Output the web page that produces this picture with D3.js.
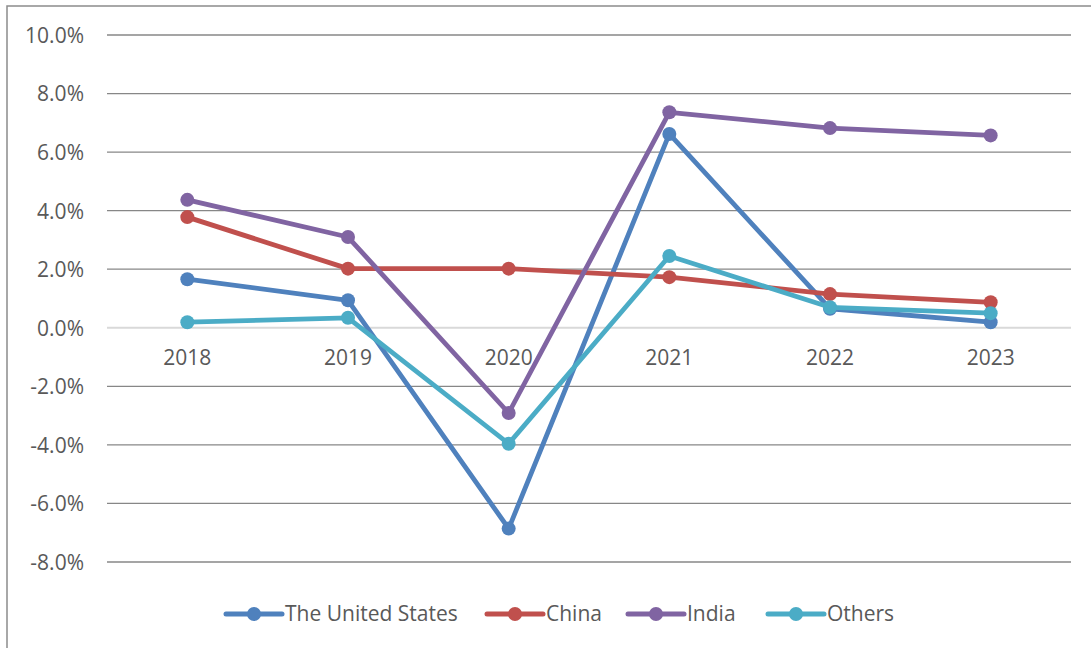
<!DOCTYPE html>
<html>
<head>
<meta charset="utf-8">
<script src="https://cdn.jsdelivr.net/npm/d3@7"></script>
<style>
  body { margin: 0; background: #fff; }
  text { font-family: "Open Sans", "Noto Sans", sans-serif; fill: #595959; }
</style>
</head>
<body>
<div id="chart"></div>
<script>
const years = ['2018', '2019', '2020', '2021', '2022', '2023']
const yTicks = [-8, -6, -4, -2, 0, 2, 4, 6, 8, 10]
const seriesNames = ['The United States', 'China', 'India', 'Others']
const colors = ['#4f81bd', '#c0504d', '#8064a2', '#4bacc6']
const usValues = [1.66, 0.94, -6.86, 6.62, 0.65, 0.19]
const chinaValues = [3.78, 2.02, 2.02, 1.73, 1.15, 0.87]
const indiaValues = [4.37, 3.10, -2.91, 7.36, 6.82, 6.57]
const othersValues = [0.19, 0.34, -3.96, 2.45, 0.70, 0.50]
const allValues = [usValues, chinaValues, indiaValues, othersValues]

const width = 1091
const height = 648
const fontSize = 21

const svg = d3.select('#chart')
  .append('svg')
  .attr('width', width)
  .attr('height', height)

// outer chart border
svg.append('rect')
  .attr('x', 7).attr('y', 6)
  .attr('width', 1100).attr('height', 700)
  .attr('fill', 'none')
  .attr('stroke', '#8c8c8c')
  .attr('stroke-width', 1.5)

const x = d3.scaleBand().domain(years).range([107, 1071]).padding(0)
const y = d3.scaleLinear().domain([-8, 10]).range([562, 35])

// gridlines
svg.append('g').selectAll('line').data(yTicks).enter().append('line')
  .attr('x1', 107).attr('x2', 1071)
  .attr('y1', d => y(d)).attr('y2', d => y(d))
  .attr('stroke', d => d === 0 ? '#d9d9d9' : '#878787')
  .attr('stroke-width', d => d === 0 ? 2 : 1.3)

// y axis labels (plain hyphen for negatives, like the original)
const yAxis = d3.axisLeft(y).tickValues(yTicks).tickSize(0).tickPadding(0)
  .tickFormat(d => d.toFixed(1) + '%')
svg.append('g').attr('transform', 'translate(84,0)').call(yAxis)
  .call(g => g.select('.domain').remove())
  .selectAll('text')
  .attr('font-size', fontSize)
  .attr('dy', '0.35em')
  .style('fill', '#595959')

// x axis labels, sitting under the 0% line
const xAxis = d3.axisBottom(x).tickSize(0).tickPadding(0)
svg.append('g').attr('transform', `translate(0,${y(0) + 30})`).call(xAxis)
  .call(g => g.select('.domain').remove())
  .selectAll('text')
  .attr('font-size', fontSize)
  .attr('dy', '0.35em')
  .style('fill', '#595959')

const line = d3.line()
  .x((d, i) => x(years[i]) + x.bandwidth() / 2)
  .y(d => y(d))

allValues.forEach((vals, s) => {
  const g = svg.append('g')
  g.append('path')
    .datum(vals)
    .attr('d', line)
    .attr('fill', 'none')
    .attr('stroke', colors[s])
    .attr('stroke-width', 4.8)
    .attr('stroke-linejoin', 'round')
    .attr('stroke-linecap', 'round')
  g.selectAll('circle').data(vals).enter().append('circle')
    .attr('cx', (d, i) => x(years[i]) + x.bandwidth() / 2)
    .attr('cy', d => y(d))
    .attr('r', 7)
    .attr('fill', colors[s])
})

// legend
const legendX = [226, 487, 628, 768]
const legend = svg.append('g')
seriesNames.forEach((name, i) => {
  const lg = legend.append('g').attr('transform', `translate(${legendX[i]},614)`)
  lg.append('line')
    .attr('x1', 0).attr('x2', 56)
    .attr('stroke', colors[i])
    .attr('stroke-width', 5)
    .attr('stroke-linecap', 'round')
  lg.append('circle').attr('cx', 28).attr('r', 7).attr('fill', colors[i])
  lg.append('text')
    .attr('x', 59).attr('dy', '0.35em')
    .attr('font-size', fontSize)
    .text(name)
})
</script>
</body>
</html>
